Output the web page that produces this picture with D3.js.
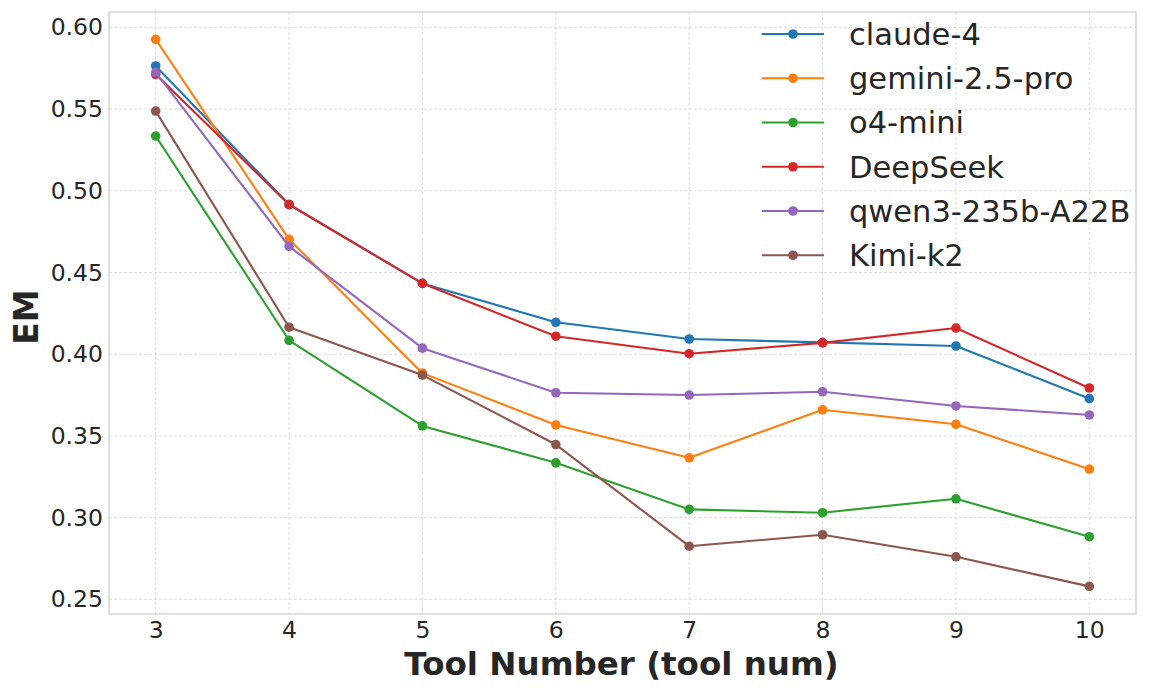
<!DOCTYPE html>
<html>
<head>
<meta charset="utf-8">
<script src="https://cdn.jsdelivr.net/npm/d3@7"></script>
<style>
  html, body { margin: 0; padding: 0; background: #fff; }
  svg { display: block; font-family: "DejaVu Sans", sans-serif; }
</style>
</head>
<body>
<svg id="chart" width="1152" height="691"></svg>
<script>
const tools = [3, 4, 5, 6, 7, 8, 9, 10];
const yTicks = [0.25, 0.30, 0.35, 0.40, 0.45, 0.50, 0.55, 0.60];
const seriesNames = ["claude-4", "gemini-2.5-pro", "o4-mini", "DeepSeek", "qwen3-235b-A22B", "Kimi-k2"];
const claude4 = [0.5764, 0.4916, 0.4433, 0.4195, 0.4093, 0.4072, 0.4050, 0.3728];
const gemini25pro = [0.5927, 0.4703, 0.3884, 0.3567, 0.3366, 0.3660, 0.3571, 0.3297];
const o4mini = [0.5335, 0.4085, 0.3561, 0.3335, 0.3050, 0.3030, 0.3115, 0.2883];
const deepseek = [0.5713, 0.4916, 0.4433, 0.4110, 0.4003, 0.4069, 0.4160, 0.3793];
const qwen3 = [0.5725, 0.4660, 0.4037, 0.3764, 0.3750, 0.3770, 0.3683, 0.3628];
const kimik2 = [0.5488, 0.4165, 0.3872, 0.3447, 0.2825, 0.2895, 0.2760, 0.2579];
const colors = ["#1f77b4", "#ff7f0e", "#2ca02c", "#d62728", "#9467bd", "#8c564b"];

const seriesValues = [claude4, gemini25pro, o4mini, deepseek, qwen3, kimik2];
const series = seriesNames.map((name, i) => ({
  name, color: colors[i],
  points: tools.map((t, j) => ({ x: t, y: seriesValues[i][j] }))
}));

const svg = d3.select("#chart");
const L = 109, R = 1136, T = 12, B = 614;
const x = d3.scaleLinear().domain([2.65, 10.35]).range([L, R]);
const y = d3.scaleLinear().domain([0.2410, 0.6094]).range([B, T]);

const textColor = "#262626";

// grid
const grid = svg.append("g");
grid.selectAll("line.gx").data(tools).join("line")
  .attr("x1", d => x(d)).attr("x2", d => x(d))
  .attr("y1", T).attr("y2", B)
  .attr("stroke", "#d4d4d4").attr("stroke-width", 0.8).attr("stroke-dasharray", "3,2");
grid.selectAll("line.gy").data(yTicks).join("line")
  .attr("x1", L).attr("x2", R)
  .attr("y1", d => y(d)).attr("y2", d => y(d))
  .attr("stroke", "#d4d4d4").attr("stroke-width", 0.8).attr("stroke-dasharray", "3,2");

// axes (labels only, no tick marks)
const xAxis = d3.axisBottom(x).tickValues(tools).tickSize(0).tickPadding(7.5).tickFormat(d3.format("d"));
const gx = svg.append("g").attr("transform", `translate(0,${B})`).call(xAxis);
gx.select(".domain").remove();
gx.selectAll("text").attr("font-size", 23.5).attr("fill", textColor).attr("font-family", "DejaVu Sans");

const yAxis = d3.axisLeft(y).tickValues(yTicks).tickSize(0).tickPadding(6).tickFormat(d3.format(".2f"));
const gy = svg.append("g").attr("transform", `translate(${L},0)`).call(yAxis);
gy.select(".domain").remove();
gy.selectAll("text").attr("font-size", 23.5).attr("fill", textColor).attr("font-family", "DejaVu Sans");

// frame
svg.append("rect").attr("x", L).attr("y", T).attr("width", R - L).attr("height", B - T)
  .attr("fill", "none").attr("stroke", "#cccccc").attr("stroke-width", 1.2);

// lines
const line = d3.line().x(d => x(d.x)).y(d => y(d.y));
const gs = svg.append("g");
series.forEach(s => {
  const g = gs.append("g");
  g.append("path").datum(s.points).attr("d", line)
    .attr("fill", "none").attr("stroke", s.color).attr("stroke-width", 2.1)
    .attr("stroke-linejoin", "round").attr("stroke-linecap", "square");
  g.selectAll("circle").data(s.points).join("circle")
    .attr("cx", d => x(d.x)).attr("cy", d => y(d.y)).attr("r", 4.8)
    .attr("fill", s.color);
});

// axis titles
svg.append("text").attr("x", (L + R) / 2 - 1).attr("y", 674.5)
  .attr("text-anchor", "middle").attr("font-size", 32.5).attr("font-weight", "bold")
  .attr("fill", textColor).text("Tool Number (tool num)");
svg.append("text").attr("transform", `translate(38,${(T + B) / 2 + 4}) rotate(-90)`)
  .attr("text-anchor", "middle").attr("font-size", 33).attr("font-weight", "bold")
  .attr("fill", textColor).text("EM");

// legend
const legend = svg.append("g");
const rowY0 = 34, rowStep = 44.25;
series.forEach((s, i) => {
  const yy = rowY0 + i * rowStep;
  legend.append("line").attr("x1", 762).attr("x2", 824).attr("y1", yy).attr("y2", yy)
    .attr("stroke", s.color).attr("stroke-width", 2.1);
  legend.append("circle").attr("cx", 793).attr("cy", yy).attr("r", 4.8).attr("fill", s.color);
  legend.append("text").attr("x", 849).attr("y", yy).attr("dy", "0.36em")
    .attr("font-size", 30.5).attr("fill", textColor).text(s.name);
});
</script>
</body>
</html>
